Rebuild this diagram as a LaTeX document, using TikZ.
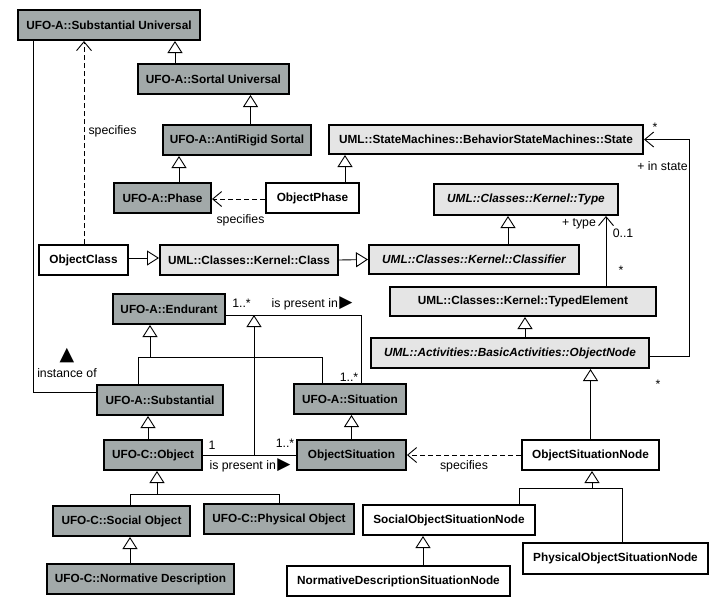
\documentclass[tikz,border=0pt]{standalone}
\usepackage{fontspec}
\setmainfont{Liberation Sans}
\newfontfamily\symfont{DejaVu Sans}
\usetikzlibrary{arrows.meta}
\definecolor{ufogray}{RGB}{162,169,169}
\definecolor{umlgray}{RGB}{229,229,229}
\newcommand{\boxfnt}{\fontsize{11.8}{13}\selectfont\bfseries}
\newcommand{\lblfnt}{\fontsize{12.3}{13}\selectfont}
\newcommand{\tri}{{\symfont\fontsize{17}{15}\selectfont ▶}}
\begin{document}
\begin{tikzpicture}[x=1pt,y=-1pt,
  box/.style={draw=black, line width=2pt, minimum height=30, inner sep=0, font=\boxfnt, text=black},
  ufo/.style={box, fill=ufogray},
  uml/.style={box, fill=umlgray},
  plain/.style={box, fill=white},
  conn/.style={line width=0.9pt},
  gen/.style={conn, -{Triangle[fill=white, length=12pt, width=15pt]}},
  dep/.style={conn, dash pattern=on 5pt off 3pt, -{Straight Barb[length=9pt, width=15pt]}},
  nav/.style={conn, -{Straight Barb[length=9pt, width=15pt]}},
  lbl/.style={font=\lblfnt, inner sep=0}]
\useasboundingbox (0,0) rectangle (717,606);
\fill[white] (0,0) rectangle (717,606);

% boxes
\node[ufo, minimum width=182] (su) at (109,25) {UFO-A::Substantial Universal};
\node[ufo, minimum width=151] (sortal) at (213.5,79) {UFO-A::Sortal Universal};
\node[ufo, minimum width=148] (anti) at (237,140) {UFO-A::AntiRigid Sortal};
\node[ufo, minimum width=97] (phase) at (162.5,198) {UFO-A::Phase};
\node[plain, minimum width=93] (ophase) at (312.5,198) {ObjectPhase};
\node[plain, minimum width=89] (oclass) at (83.5,260) {ObjectClass};
\node[uml, minimum width=178] (class) at (249,260) {UML::Classes::Kernel::Class};
\node[uml, minimum width=314, minimum height=29] (state) at (486,139.5) {UML::StateMachines::BehaviorStateMachines::State};
\node[uml, minimum width=184, minimum height=31] (type) at (526,199.5) {\itshape UML::Classes::Kernel::Type};
\node[uml, minimum width=210, minimum height=29] (classifier) at (474,259.5) {\itshape UML::Classes::Kernel::Classifier};
\node[uml, minimum width=266, minimum height=29] (typed) at (523,301.5) {UML::Classes::Kernel::TypedElement};
\node[uml, minimum width=278] (onode) at (510,353) {\itshape UML::Activities::BasicActivities::ObjectNode};
\node[ufo, minimum width=112] (endurant) at (169,309) {UFO-A::Endurant};
\node[ufo, minimum width=126] (substantial) at (160,400) {UFO-A::Substantial};
\node[ufo, minimum width=112] (situation) at (350,399) {UFO-A::Situation};
\node[ufo, minimum width=98] (object) at (153,455) {UFO-C::Object};
\node[ufo, minimum width=109] (osit) at (351.5,455) {ObjectSituation};
\node[plain, minimum width=137] (osn) at (590.5,455) {ObjectSituationNode};
\node[ufo, minimum width=137] (social) at (121.5,521) {UFO-C::Social Object};
\node[ufo, minimum width=150] (physical) at (279,519) {UFO-C::Physical Object};
\node[ufo, minimum width=187] (normdesc) at (140.5,579) {UFO-C::Normative Description};
\node[plain, minimum width=172] (sosn) at (449,520) {SocialObjectSituationNode};
\node[plain, minimum width=185, minimum height=31] (posn) at (615.5,558.5) {PhysicalObjectSituationNode};
\node[plain, minimum width=223] (ndsn) at (398.5,581) {NormativeDescriptionSituationNode};

% generalizations
\draw[gen] ([xshift=-38.5]sortal.north) coordinate (g1) -- (g1 |- su.south);
\draw[gen] ([xshift=13.5]anti.north) coordinate (g2) -- (g2 |- sortal.south);
\draw[gen] ([xshift=16.5]phase.north) coordinate (g3) -- (g3 |- anti.south);
\draw[gen] ([xshift=32.5]ophase.north) coordinate (g4) -- (g4 |- state.south);
\draw[gen] ([yshift=2]oclass.east) -- ([yshift=2]class.west);
\draw[gen] (class.east) -- (classifier.west);
\draw[gen] ([xshift=34]classifier.north) coordinate (g7) -- (g7 |- type.south);
\draw[gen] ([xshift=15]onode.north) coordinate (g8) -- (g8 |- typed.south);
\draw[gen] (osn.north) -- (osn.north |- onode.south);
\draw[gen] (osit.north) -- (osit.north |- situation.south);
\draw[gen] ([xshift=-5]object.north) coordinate (g11) -- (g11 |- substantial.south);
\coordinate (j1) at (150,357);
\draw[conn] ([xshift=-22]substantial.north) |- (j1);
\draw[conn] ([xshift=-28]situation.north) |- (j1);
\draw[gen] (j1) -- (j1 |- endurant.south);
\coordinate (j2) at (157,494);
\draw[conn] ([xshift=8.5]social.north) |- (j2);
\draw[conn] (physical.north) |- (j2);
\draw[gen] (j2) -- (j2 |- object.south);
\draw[gen] ([xshift=-10.5]normdesc.north) coordinate (g14) -- (g14 |- social.south);
\coordinate (j3) at (592,488);
\draw[conn] ([xshift=70]sosn.north) |- (j3);
\draw[conn] ([xshift=6.5]posn.north) |- (j3);
\draw[gen] (j3) -- (j3 |- osn.south);
\draw[gen] ([xshift=24.5]ndsn.north) coordinate (g16) -- (g16 |- sosn.south);

% dependencies
\draw[dep] ([xshift=0.5]oclass.north) coordinate (d1) -- (d1 |- su.south);
\node[lbl] (l1) at (112.5,131) {specifies};
\draw[dep] ([yshift=-1]ophase.west) -- ([yshift=-1]phase.east);
\node[lbl] (l2) at (240.5,220) {specifies};
\draw[dep] (osn.west) -- (osit.west -| osit.east);
\node[lbl] (l3) at (464,466) {specifies};

% associations
\draw[nav] ([yshift=-3]onode.east) -| ([xshift=45]state.east) -- (state.east);
\node[lbl] (l4) at (655,127) {*};
\node[lbl] (l5) at (662.5,166) {+ in state};
\node[lbl] (l6) at (658,384) {*};
\draw[nav] ([xshift=83]typed.north) coordinate (a2) -- (a2 |- type.south);
\node[lbl] (l7) at (579,224) {+ type};
\node[lbl] (l8) at (623,233) {0..1};
\node[lbl] (l9) at (621,270) {*};
\draw[conn] ([yshift=-6]endurant.east) -| ([xshift=11]situation.north);
\node[lbl] (l10) at (241.5,303) {1..*};
\node[lbl] (l11) at (312,303) {is present in\kern1.5pt\tri};
\node[lbl] (l12) at (349,377) {1..*};
\draw[conn] (object.east) -- (osit.west);
\node[lbl] (l13) at (212,445) {1};
\node[lbl] (l14) at (285,443) {1..*};
\node[lbl] (l15) at (250,465) {is present in\kern1.5pt\tri};
\coordinate (m1) at (254,455);
\coordinate (m2) at (254,315);
\draw[gen] (m1) -- (m2);
% instance of
\draw[conn] ([xshift=-76]su.south) |- ([yshift=8]substantial.west);
\node[lbl] (l16) at (67,356) {{\symfont\fontsize{19}{19}\selectfont ▲}};
\node[lbl] (l17) at (67,373) {instance of};
\end{tikzpicture}
\end{document}
